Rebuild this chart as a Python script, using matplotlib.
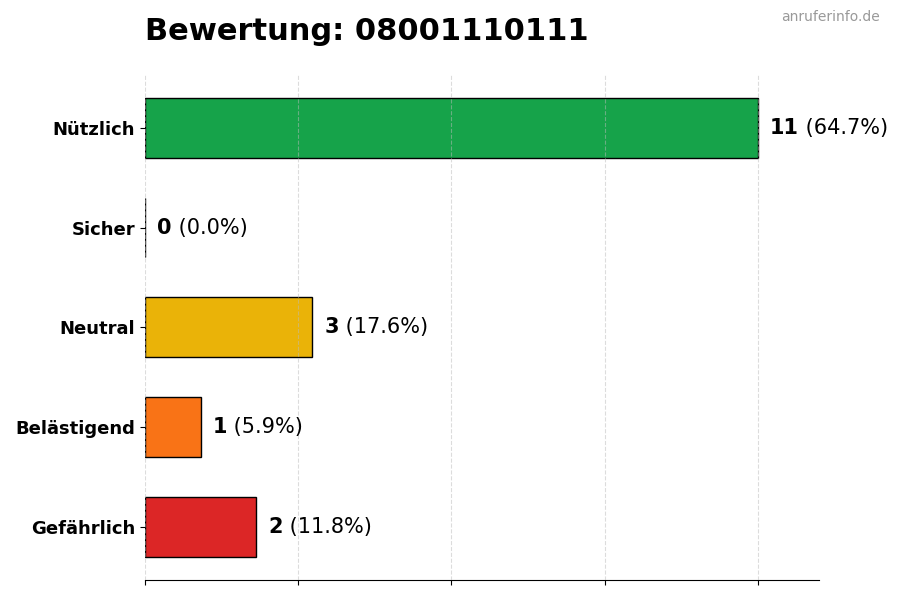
import matplotlib
matplotlib.use('Agg')
import matplotlib.pyplot as plt
import numpy as np

categories = ['Nützlich', 'Sicher', 'Neutral', 'Belästigend', 'Gefährlich']
counts = [11, 0, 3, 1, 2]
colors = ['#16a34a', '#94a3b8', '#eab308', '#f97316', '#dc2626']
number = '08001110111'

total = sum(counts)
ypos = np.arange(len(categories))

fig = plt.figure(figsize=(9, 6), dpi=100)
ax = fig.add_axes([0.161, 0.034, 0.749, 0.841])

ax.barh(ypos, counts, height=0.6, color=colors, edgecolor='black', linewidth=1)
ax.invert_yaxis()

xmax = max(counts) * 1.1
ax.set_xlim(0, xmax)
ax.set_xticks(np.linspace(0, max(counts), 5))
ax.set_xticklabels([])
ax.set_yticks(ypos)
ax.set_yticklabels(categories, fontsize=13, fontweight='bold')

# grid sits on top of the bars but faint
ax.grid(axis='x', linestyle='--', color='#bbbbbb', alpha=0.5, linewidth=0.8)
ax.set_axisbelow(False)
for s in ['top', 'right', 'left']:
    ax.spines[s].set_visible(False)

offset = max(counts) * 0.02
for y, c in zip(ypos, counts):
    pct = c / total * 100
    t = ax.text(c + offset, y, str(c), fontsize=15, fontweight='bold',
                va='center', ha='left')
    ax.annotate(f' ({pct:.1f}%)', xy=(1, 0), xycoords=t, va='bottom',
                ha='left', fontsize=15)

fig.text(0.161, 0.948, f'Bewertung: {number}', fontsize=22, fontweight='bold',
         va='center', ha='left')
fig.text(0.978, 0.971, 'anruferinfo.de', fontsize=10, color='#999999',
         va='center', ha='right')

fig.savefig('out.png', dpi=100)
